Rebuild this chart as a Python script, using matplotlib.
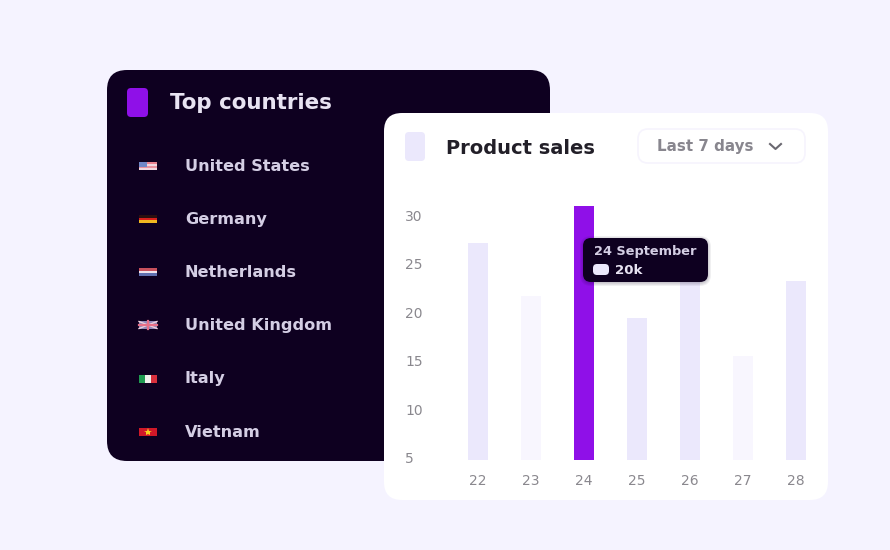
import matplotlib
matplotlib.use('Agg')
import matplotlib.pyplot as plt
from matplotlib.patches import FancyBboxPatch, Rectangle

plt.rcParams['font.family'] = ['DejaVu Sans']

days = ['22', '23', '24', '25', '26', '27', '28']
sales = [27.2, 21.7, 31.0, 19.4, 23.1, 15.5, 23.2]
y_ticks = [5, 10, 15, 20, 25, 30]
countries = ['United States', 'Germany', 'Netherlands', 'United Kingdom', 'Italy', 'Vietnam']

BG = '#f5f3ff'
DARK = '#0e0020'
PURPLE = '#8f10e8'
LIGHT = '#ebe8fc'
PALE = '#f8f6fe'
bar_colors = [LIGHT, PALE, PURPLE, LIGHT, LIGHT, PALE, LIGHT]

W, H = 890, 550
fig = plt.figure(figsize=(W / 100, H / 100), dpi=100, facecolor=BG)


def pixel_axes(zorder):
    a = fig.add_axes([0, 0, 1, 1], zorder=zorder)
    a.set_xlim(0, W)
    a.set_ylim(H, 0)
    a.axis('off')
    return a


def box(a, x0, y0, x1, y1, r, color, edge='none', lw=0, alpha=1):
    a.add_patch(FancyBboxPatch((x0 + r, y0 + r), x1 - x0 - 2 * r, y1 - y0 - 2 * r,
                               boxstyle=f'round,pad={r},rounding_size={r}',
                               fc=color, ec=edge, lw=lw, alpha=alpha))


def label(a, x, y, s, color, size):
    a.text(x, y, s, color=color, fontsize=size, fontweight='bold', va='center_baseline')


ax = pixel_axes(0)

# dark card
box(ax, 107, 70, 550, 461, 20, DARK)
box(ax, 127, 88, 148, 117, 4, PURPLE)
label(ax, 170, 101, 'Top countries', '#e8e3f2', 15.4)

row_y = [166, 219, 272, 325, 378.5, 432]
for name, y in zip(countries, row_y):
    label(ax, 185, y - 1, name, '#d4cee4', 11.6)


def stripes_h(y, cols):
    h = 8 / len(cols)
    for i, c in enumerate(cols):
        ax.add_patch(Rectangle((139, y - 4 + i * h), 18, h, fc=c, ec='none'))


def stripes_v(y, cols):
    w = 18 / len(cols)
    for i, c in enumerate(cols):
        ax.add_patch(Rectangle((139 + i * w, y - 4), w, 8, fc=c, ec='none'))


# flags
stripes_h(row_y[0], ['#e8828f', '#f0d8e0', '#e8929f', '#f0d8e0'])
ax.add_patch(Rectangle((139, row_y[0] - 4), 8, 4.5, fc='#7088c8', ec='none'))
stripes_h(row_y[1], ['#2a1010', '#d8201c', '#f0b820'])
stripes_h(row_y[2], ['#c8505c', '#f0e4ec', '#6070b0'])
stripes_h(row_y[3], ['#9088b8'])
ax.plot([139, 157], [row_y[3] - 3.5, row_y[3] + 3.5], color='#f0d0dc', lw=1)
ax.plot([139, 157], [row_y[3] + 3.5, row_y[3] - 3.5], color='#f0d0dc', lw=1)
ax.plot([139, 157], [row_y[3], row_y[3]], color='#e87088', lw=1.6)
ax.plot([148, 148], [row_y[3] - 4, row_y[3] + 4], color='#e87088', lw=1.6)
stripes_v(row_y[4], ['#1f9a50', '#f0f0ec', '#d8303c'])
stripes_h(row_y[5], ['#d01828'])
ax.plot([148], [row_y[5]], marker='*', color='#f8d020', ms=6, mew=0)

# white card
box(ax, 384, 113, 828, 500, 18, 'white')
box(ax, 405, 132, 425, 161, 4, LIGHT)
label(ax, 446, 146, 'Product sales', '#221f28', 14.0)

box(ax, 638, 129, 805, 163, 10, 'white', edge='#f6f4fd', lw=1.2)
label(ax, 657, 145.5, 'Last 7 days', '#88868e', 10.9)
ax.plot([770, 775.5, 781], [144, 149, 144], color='#6a6870', lw=1.5)

# bars
base = 4.79
ax_bar = fig.add_axes([448 / W, 1 - 459.5 / H, 378 / W, 259.5 / H], zorder=1)
ax_bar.patch.set_alpha(0)
x_pos = list(range(len(days)))
ax_bar.bar(x_pos, [v - base for v in sales], bottom=base, width=20.5 / 53, color=bar_colors)
ax_bar.set_xlim(-30 / 53, 348 / 53)
ax_bar.set_ylim(base, base + 259.5 / 9.68)
ax_bar.set_xticks(x_pos, days)
ax_bar.set_yticks(y_ticks)
ax_bar.tick_params(length=0, labelsize=10, labelcolor='#8a888e')
ax_bar.tick_params(axis='x', pad=10.5)
ax_bar.tick_params(axis='y', pad=31)
for lab in ax_bar.get_yticklabels():
    lab.set_horizontalalignment('left')
for s in ax_bar.spines.values():
    s.set_visible(False)

# tooltip
ax_top = pixel_axes(2)
for i in range(4):
    box(ax_top, 583 - i, 238 - i + 1, 708 + i, 282 + i + 1, 8 + i, DARK, alpha=0.06)
box(ax_top, 583, 238, 708, 282, 8, DARK)
label(ax_top, 593.5, 250.5, '24 September', '#d4cee4', 9.3)
box(ax_top, 593, 264, 609, 275, 4, LIGHT)
label(ax_top, 615, 269, '20k', '#e8e3f2', 9.6)

fig.savefig('out.png', dpi=100, facecolor=BG)
